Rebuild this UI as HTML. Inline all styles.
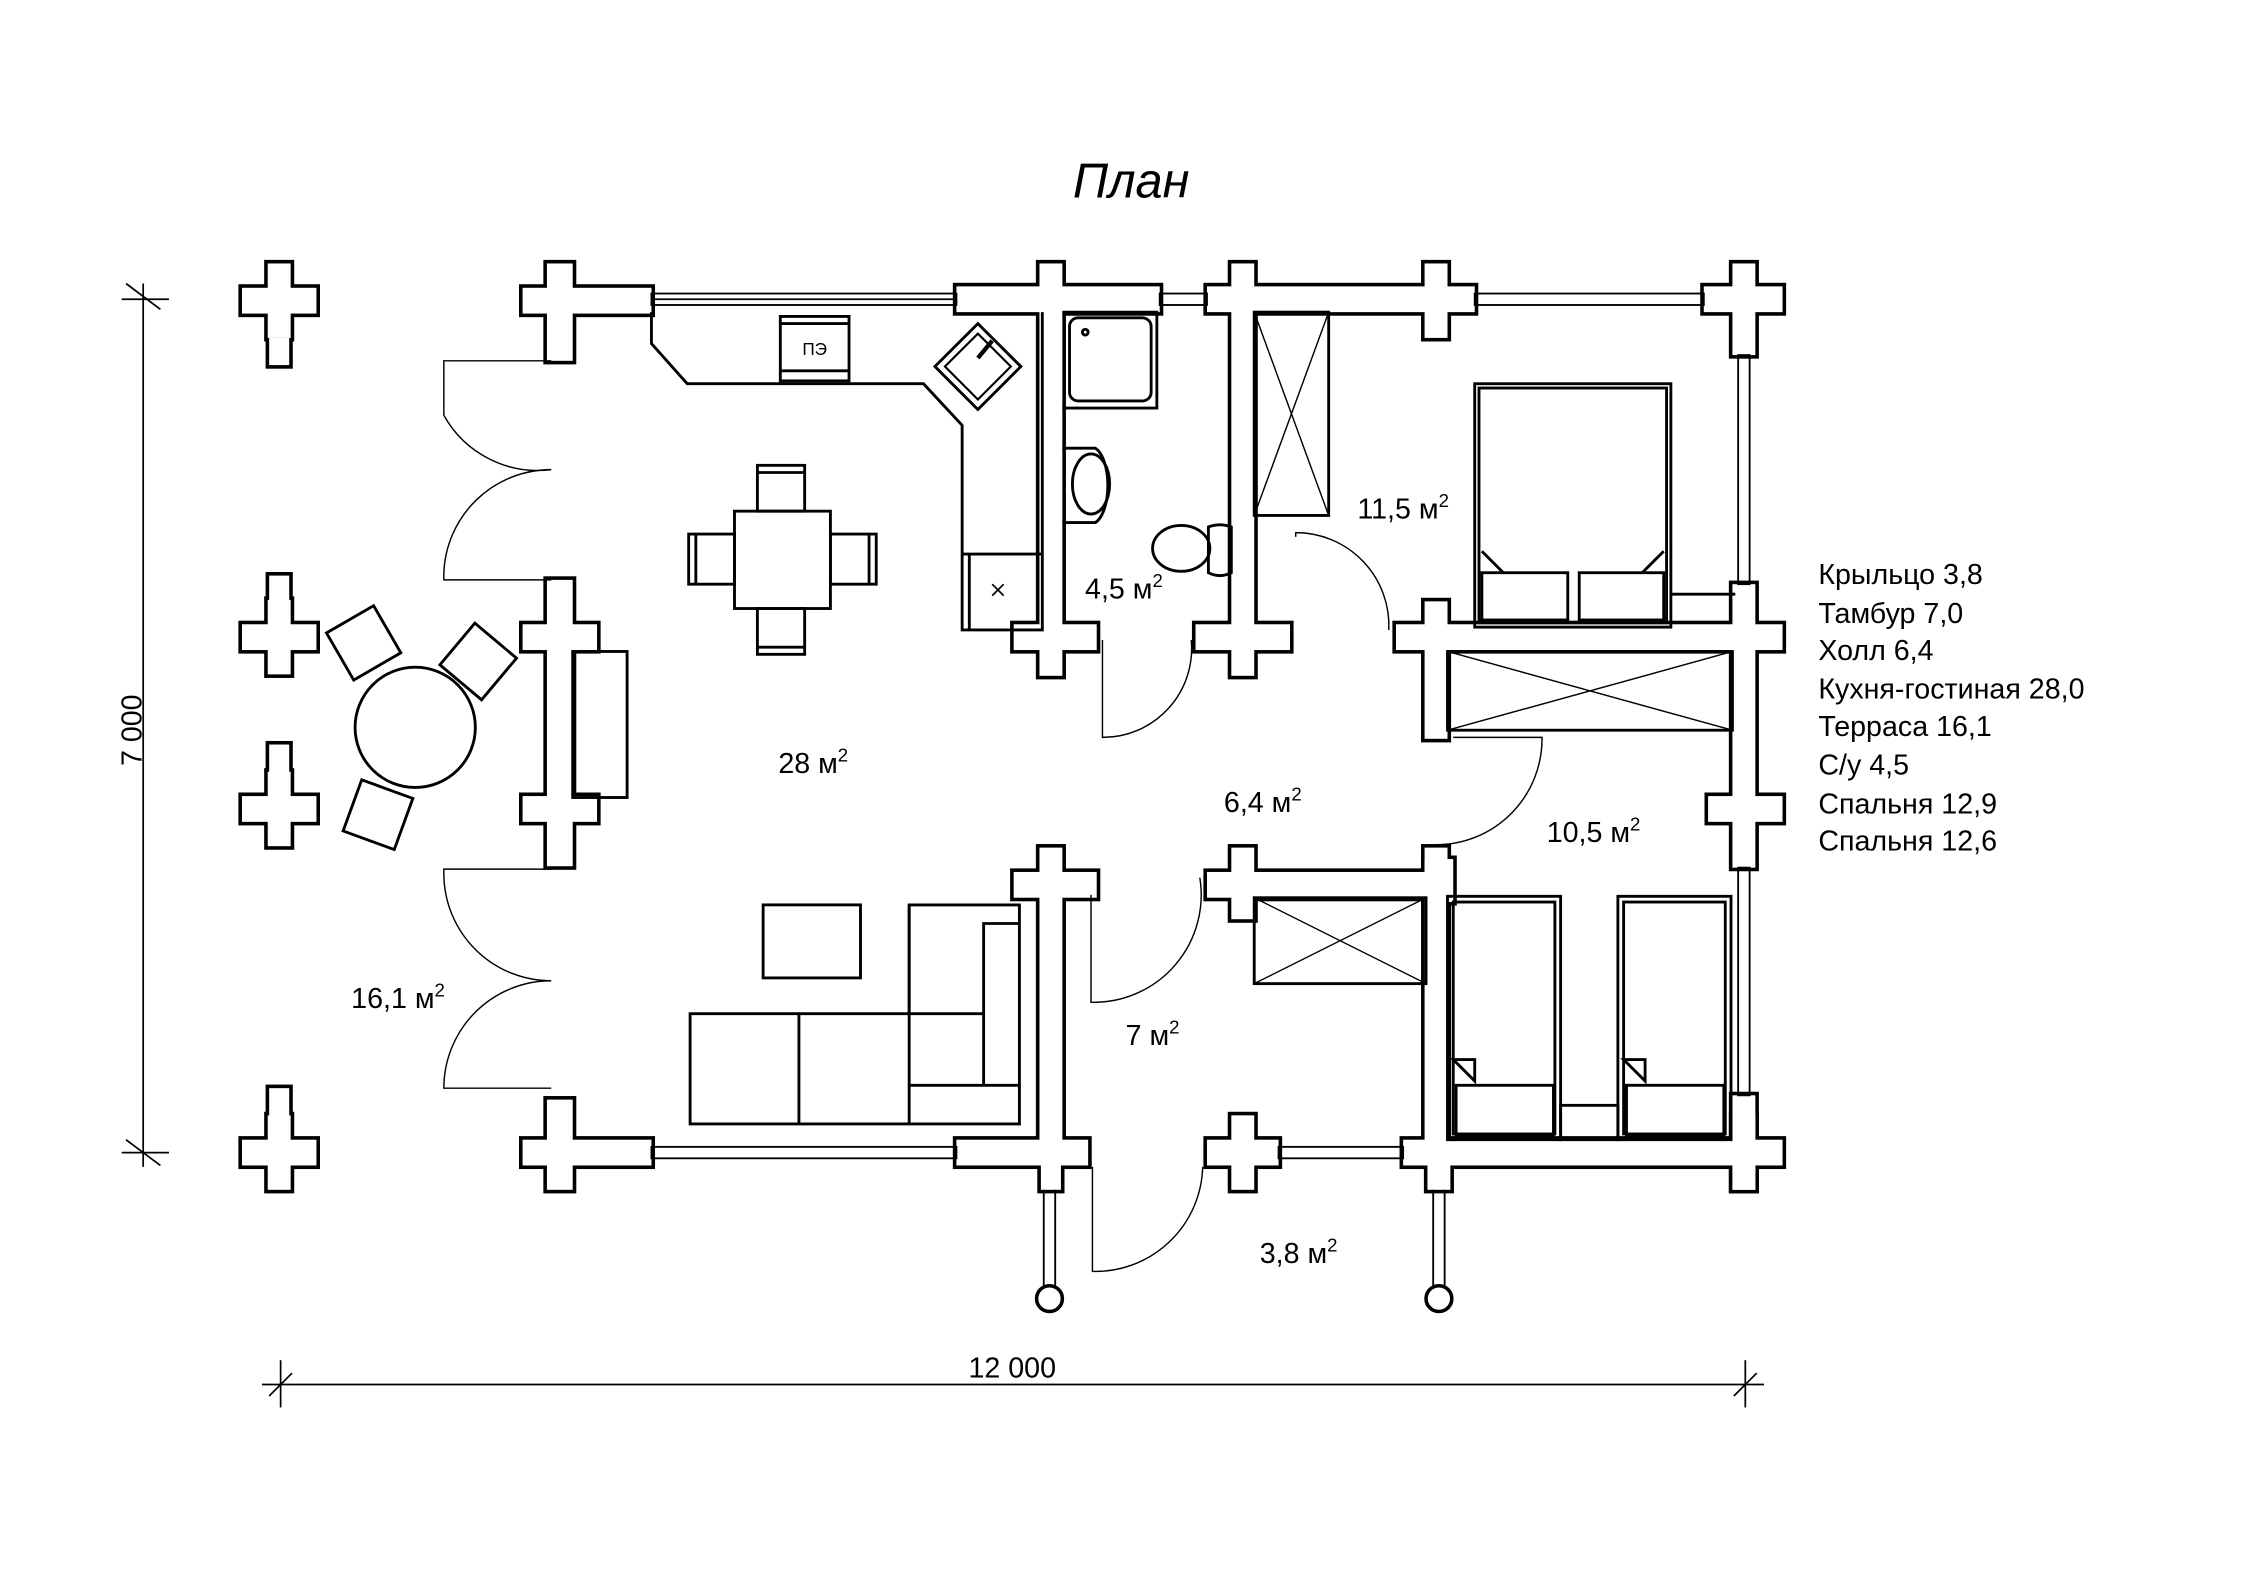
<!DOCTYPE html>
<html><head><meta charset="utf-8"><style>
html,body{margin:0;padding:0;background:#fff}
svg{display:block}
text{font-family:"Liberation Sans",sans-serif;fill:#000}
</style></head><body>
<svg width="2245" height="1587" viewBox="0 0 1568 1108.4" xmlns="http://www.w3.org/2000/svg">
<defs>
<g id="walls">
<rect x="169" y="201" width="52" height="18"/><rect x="187" y="184" width="16" height="52"/><rect x="188" y="236" width="14" height="19"/>
<rect x="169" y="436" width="52" height="18"/><rect x="187" y="419" width="16" height="52"/><rect x="188" y="402" width="14" height="19"/>
<rect x="169" y="556" width="52" height="18"/><rect x="187" y="539" width="16" height="52"/><rect x="188" y="520" width="14" height="20"/>
<rect x="169" y="796" width="52" height="18"/><rect x="187" y="779" width="16" height="52"/><rect x="188" y="760" width="14" height="20"/>
<rect x="365" y="201" width="90" height="18"/><rect x="382" y="184" width="18" height="68"/>
<rect x="668" y="200" width="142" height="18"/><rect x="726" y="184" width="16" height="262"/>
<rect x="843" y="200" width="187" height="18"/><rect x="860" y="184" width="16" height="262"/><rect x="995" y="184" width="16" height="52"/>
<rect x="1190" y="200" width="55" height="18"/><rect x="1210" y="184" width="16" height="64"/>
<rect x="1210" y="408" width="16" height="198"/><rect x="1193" y="556" width="52" height="18"/>
<rect x="1210" y="765" width="16" height="66"/>
<rect x="365" y="436" width="52" height="18"/><rect x="382" y="405" width="18" height="200"/><rect x="365" y="556" width="52" height="18"/>
<rect x="708" y="436" width="58" height="18"/><rect x="726" y="436" width="16" height="36"/>
<rect x="835" y="436" width="66" height="18"/><rect x="860" y="436" width="16" height="36"/>
<rect x="975" y="436" width="270" height="18"/><rect x="995" y="420" width="16" height="96"/>
<rect x="708" y="609" width="58" height="18"/><rect x="726" y="592" width="16" height="210"/>
<rect x="843" y="609" width="160" height="18"/><rect x="860" y="592" width="16" height="50"/>
<rect x="995" y="592" width="16" height="220"/><rect x="995" y="600" width="20" height="30"/>
<rect x="365" y="796" width="90" height="18"/><rect x="382" y="768" width="18" height="63"/>
<rect x="668" y="796" width="92" height="18"/>
<rect x="843" y="796" width="50" height="18"/><rect x="860" y="779" width="16" height="52"/>
<rect x="980" y="796" width="265" height="18"/><rect x="1210" y="779" width="16" height="52"/><rect x="997" y="812" width="16" height="19"/>
<rect x="727" y="812" width="14" height="19"/>
</g>
</defs>
<rect width="1568" height="1110" fill="#fff"/>
<use href="#walls" fill="#000" stroke="#000" stroke-width="5"/>
<use href="#walls" fill="#fff"/>

<g fill="none" stroke="#000" stroke-width="1.3">
<rect x="455" y="205" width="213" height="8"/><line x1="455" y1="209" x2="668" y2="209"/>
<rect x="810" y="205" width="33" height="8"/><rect x="1030" y="205" width="160" height="8"/>
<rect x="1214" y="248" width="8" height="160"/><rect x="1214" y="606" width="8" height="159"/>
<rect x="455" y="801" width="213" height="8"/><rect x="893" y="801" width="87" height="8"/>
<line x1="729" y1="831" x2="729" y2="898"/><line x1="737" y1="831" x2="737" y2="898"/>
<circle cx="733" cy="907" r="9" stroke-width="2.5"/>
<line x1="1001" y1="831" x2="1001" y2="898"/><line x1="1009" y1="831" x2="1009" y2="898"/>
<circle cx="1005" cy="907" r="9" stroke-width="2.5"/>

<g stroke-width="1">
<path d="M385 252 L310 252 L310 290 A 75 75 0 0 0 385 328 A 75 75 0 0 0 310 400 L310 405 L385 405"/>
<path d="M385 607 L310 607 L310 612 A 75 75 0 0 0 385 685 A 75 75 0 0 0 310 760 L385 760"/>
<path d="M770 447 L770 515 A 62 62 0 0 0 832 447"/>
<path d="M905 375 L905 372 A 65 65 0 0 1 970 440"/>
<path d="M1015 515 L1077 515 A 74 74 0 0 1 1003 590"/>
<path d="M838 613 A 75 75 0 0 1 762 700 L762 625"/>
<path d="M840 815 A 75 75 0 0 1 763 888 L763 815"/>
</g>

<g stroke-width="2">
<path d="M455 218 L455 240 L480 268 L645 268 L672 297 L672 440 L728 440 L728 218"/>
<rect x="545" y="221" width="48" height="45"/>
<line x1="545" y1="226" x2="593" y2="226"/><line x1="545" y1="259" x2="593" y2="259"/>
<path d="M653 256 L683 226 L713 256 L683 286 Z"/>
<path d="M660 256 L683 233 L706 256 L683 279 Z" stroke-width="1.5"/>
<line x1="683" y1="250" x2="693" y2="238" stroke-width="3"/>
<line x1="672" y1="387" x2="728" y2="387"/><line x1="677" y1="387" x2="677" y2="440"/>
<line x1="693" y1="408" x2="701" y2="416" stroke-width="1.2"/><line x1="701" y1="408" x2="693" y2="416" stroke-width="1.2"/>
<path d="M742 218 L808 218 L808 285 L742 285"/>
<rect x="747" y="222" width="57" height="58" rx="6"/>
<circle cx="758" cy="232" r="2"/>
<path d="M742 313 L765 313 A 12 27 0 0 1 765 365 L742 365"/>
<ellipse cx="762" cy="338" rx="13" ry="21"/>
<ellipse cx="825" cy="383" rx="20" ry="16"/>
<path d="M844 368 Q852 365 860 368 L860 400 Q852 404 844 400 Z"/>
<rect x="876" y="218" width="52" height="142"/><line x1="876" y1="218" x2="928" y2="360" stroke-width="1"/><line x1="928" y1="218" x2="876" y2="360" stroke-width="1"/>
<rect x="1030" y="268" width="137" height="170"/><rect x="1033" y="271" width="131" height="164"/>
<rect x="1035" y="400" width="60" height="33"/><rect x="1103" y="400" width="59" height="33"/>
<path d="M1035 385 L1050 400 M1162 385 L1147 400"/>
<line x1="1167" y1="415" x2="1212" y2="415"/>
<rect x="1011" y="455" width="199" height="55"/><line x1="1011" y1="455" x2="1210" y2="510" stroke-width="1"/><line x1="1210" y1="455" x2="1011" y2="510" stroke-width="1"/>
<rect x="876" y="627" width="120" height="60"/><line x1="876" y1="627" x2="996" y2="687" stroke-width="1"/><line x1="996" y1="627" x2="876" y2="687" stroke-width="1"/>
<rect x="1011" y="626" width="79" height="170"/><rect x="1015" y="630" width="71" height="162"/>
<rect x="1017" y="758" width="68" height="35"/><path d="M1015 740 L1030 740 L1030 755 Z"/>
<rect x="1130" y="626" width="79" height="170"/><rect x="1134" y="630" width="71" height="162"/>
<rect x="1136" y="758" width="68" height="35"/><path d="M1134 740 L1149 740 L1149 755 Z"/>
<rect x="1090" y="772" width="40" height="24"/>
<rect x="513" y="357" width="67" height="68"/>
<rect x="529" y="325" width="33" height="32"/><line x1="529" y1="330" x2="562" y2="330"/>
<rect x="529" y="425" width="33" height="32"/><line x1="529" y1="452" x2="562" y2="452"/>
<rect x="481" y="373" width="32" height="35"/><line x1="486" y1="373" x2="486" y2="408"/>
<rect x="580" y="373" width="32" height="35"/><line x1="607" y1="373" x2="607" y2="408"/>
<rect x="400" y="455" width="38" height="102"/>
<circle cx="290" cy="508" r="42"/>
<rect x="235" y="430" width="38" height="38" transform="rotate(-30 254 449)"/>
<rect x="315" y="443" width="38" height="38" transform="rotate(40 334 462)"/>
<rect x="245" y="550" width="38" height="38" transform="rotate(20 264 569)"/>
<rect x="533" y="632" width="68" height="51"/>
<path d="M482 708 L635 708 L635 632 L712 632 L712 785 L482 785 Z"/>
<path d="M635 632 L635 785 M558 708 L558 785 M635 708 L687 708 L687 645 L712 645 M635 758 L687 758 L687 708 M687 758 L712 758"/>
</g>

<line x1="100" y1="198" x2="100" y2="815" stroke-width="1.2"/>
<line x1="88" y1="198" x2="112" y2="216" stroke-width="1.2"/><line x1="85" y1="209" x2="118" y2="209" stroke-width="1.2"/>
<line x1="88" y1="796" x2="112" y2="814" stroke-width="1.2"/><line x1="85" y1="805" x2="118" y2="805" stroke-width="1.2"/>
<line x1="183" y1="967" x2="1232" y2="967" stroke-width="1.2"/>
<line x1="196" y1="950" x2="196" y2="983" stroke-width="1.2"/><line x1="188" y1="975" x2="204" y2="959" stroke-width="1.2"/>
<line x1="1219" y1="950" x2="1219" y2="983" stroke-width="1.2"/><line x1="1211" y1="975" x2="1227" y2="959" stroke-width="1.2"/>
</g>

<g font-size="20">
<text x="790" y="138" font-size="34" font-style="italic" text-anchor="middle">План</text>
<text x="707" y="962" text-anchor="middle">12 000</text>
<text x="0" y="0" transform="translate(99,510) rotate(-90)" text-anchor="middle">7 000</text>
<text x="568" y="540" text-anchor="middle">28 м<tspan font-size="13" dy="-8">2</tspan></text>
<text x="278" y="704" text-anchor="middle">16,1 м<tspan font-size="13" dy="-8">2</tspan></text>
<text x="785" y="418" text-anchor="middle">4,5 м<tspan font-size="13" dy="-8">2</tspan></text>
<text x="980" y="362" text-anchor="middle">11,5 м<tspan font-size="13" dy="-8">2</tspan></text>
<text x="882" y="567" text-anchor="middle">6,4 м<tspan font-size="13" dy="-8">2</tspan></text>
<text x="1113" y="588" text-anchor="middle">10,5 м<tspan font-size="13" dy="-8">2</tspan></text>
<text x="805" y="730" text-anchor="middle">7 м<tspan font-size="13" dy="-8">2</tspan></text>
<text x="907" y="882" text-anchor="middle">3,8 м<tspan font-size="13" dy="-8">2</tspan></text>
<text x="569" y="248" font-size="12" text-anchor="middle">ПЭ</text>
<text x="1270" y="408">Крыльцо 3,8</text>
<text x="1270" y="435">Тамбур 7,0</text>
<text x="1270" y="461">Холл 6,4</text>
<text x="1270" y="488">Кухня-гостиная 28,0</text>
<text x="1270" y="514">Терраса 16,1</text>
<text x="1270" y="541">С/у 4,5</text>
<text x="1270" y="568">Спальня 12,9</text>
<text x="1270" y="594">Спальня 12,6</text>
</g>
</svg>
</body></html>
